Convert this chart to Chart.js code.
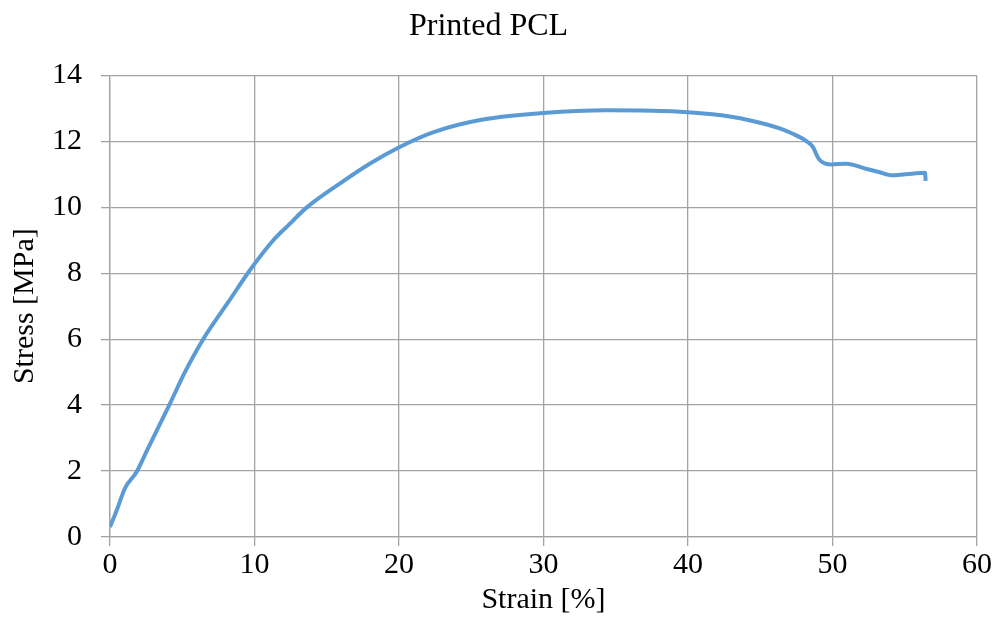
<!DOCTYPE html>
<html>
<head>
<meta charset="utf-8">
<script src="https://cdn.jsdelivr.net/npm/chart.js@4.4.1/dist/chart.umd.min.js"></script>
<style>
  html, body { margin: 0; padding: 0; background: #fff; }
</style>
</head>
<body>
<canvas id="myChart" width="999" height="635"></canvas>
<script>
// Data
const strain = [0, 0.5, 1.04, 1.85, 2.58, 4.1, 5.16, 6.45, 8.18, 9.68, 11.3, 12.4, 13.6, 16.0, 18.0, 20.05, 22.4, 25.8, 30.0, 34.4, 40.0, 43.1, 45.4, 46.3, 47.25, 48.18, 48.64, 48.98, 49.2, 49.55, 49.9, 50.95, 52.3, 53.2, 54.15, 55.5, 56.4, 56.45];
const stress = [0.30, 0.85, 1.48, 1.98, 2.64, 4.0, 4.98, 6.0, 7.12, 8.09, 9.0, 9.48, 9.99, 10.75, 11.33, 11.83, 12.28, 12.66, 12.86, 12.94, 12.88, 12.74, 12.52, 12.40, 12.23, 12.01, 11.83, 11.52, 11.40, 11.32, 11.30, 11.32, 11.17, 11.07, 10.97, 11.02, 11.05, 10.80];
const xTicks = [0, 10, 20, 30, 40, 50, 60];
const yTicks = [0, 2, 4, 6, 8, 10, 12, 14];

const ctx = document.querySelector("#myChart");
const fontFamily = '"Liberation Serif", "Times New Roman", serif';
const gridColor = "#a3a3a3";

const points = strain.map((s, i) => ({ x: s, y: stress[i] }));

new Chart(ctx, {
    type: "scatter",
    data: {
        datasets: [{
            label: "Printed PCL",
            data: points,
            showLine: true,
            borderColor: "#5b9bd5",
            borderWidth: 4,
            pointRadius: 0,
            cubicInterpolationMode: "monotone",
            fill: false
        }]
    },
    options: {
        responsive: false,
        animation: false,
        layout: { padding: { left: 0, right: 22, top: 0, bottom: 0 } },
        plugins: {
            legend: { display: false },
            tooltip: { enabled: false },
            title: {
                display: true,
                text: "Printed PCL",
                color: "#000",
                font: { family: fontFamily, size: 32, weight: "normal" },
                padding: { top: 7, bottom: 30 }
            }
        },
        scales: {
            x: {
                type: "linear",
                min: 0,
                max: 60,
                afterBuildTicks: scale => { scale.ticks = xTicks.map(v => ({ value: v })); },
                afterFit: scale => { scale.height = 98; },
                grid: { color: gridColor, lineWidth: 1.3, tickLength: 9, tickColor: gridColor },
                border: { color: gridColor, width: 1.3 },
                ticks: {
                    color: "#000",
                    padding: 1,
                    maxRotation: 0,
                    font: { family: fontFamily, size: 30 }
                },
                title: {
                    display: true,
                    text: "Strain [%]",
                    color: "#000",
                    font: { family: fontFamily, size: 30 },
                    padding: { top: 0, bottom: 17 }
                }
            },
            y: {
                type: "linear",
                min: 0,
                max: 14,
                afterBuildTicks: scale => { scale.ticks = yTicks.map(v => ({ value: v })); },
                afterFit: scale => { scale.width = 110; },
                grid: { color: gridColor, lineWidth: 1.3, tickLength: 9, tickColor: gridColor },
                border: { color: gridColor, width: 1.3 },
                ticks: {
                    color: "#000",
                    padding: 19,
                    font: { family: fontFamily, size: 30 }
                },
                title: {
                    display: true,
                    text: "Stress [MPa]",
                    color: "#000",
                    font: { family: fontFamily, size: 30 },
                    padding: { top: 7, bottom: 0 }
                }
            }
        }
    }
});
</script>
</body>
</html>
